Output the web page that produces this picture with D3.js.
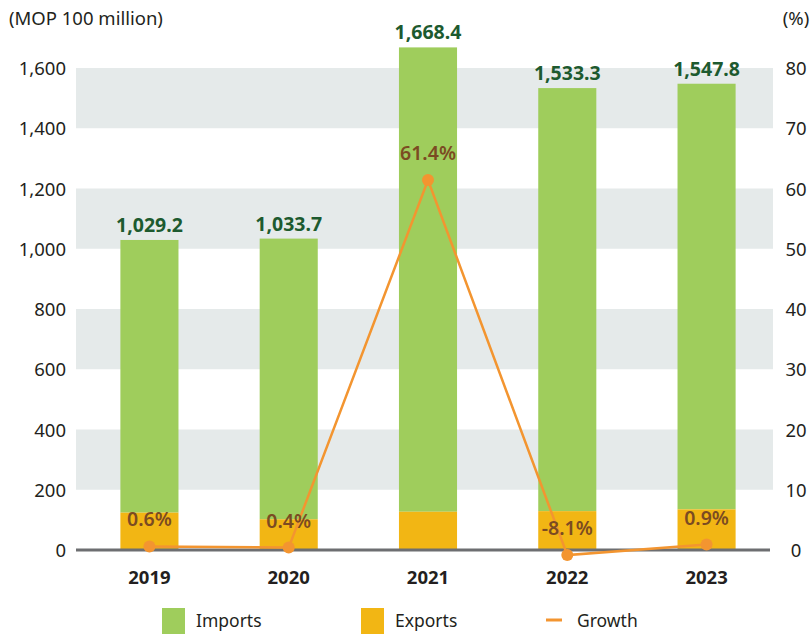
<!DOCTYPE html>
<html>
<head>
<meta charset="utf-8">
<script src="https://cdn.jsdelivr.net/npm/d3@7"></script>
<style>
  body { margin: 0; background: #fff; }
  svg text { font-family: "Noto Sans", "Open Sans", sans-serif; }
</style>
</head>
<body>
<svg id="chart" width="812" height="634"></svg>
<script>
// data
let years = ["2019", "2020", "2021", "2022", "2023"]
let totals = [1029.2, 1033.7, 1668.4, 1533.3, 1547.8]
let exportsVal = [124, 102, 127, 129, 135]
let growth = [0.6, 0.4, 61.4, -8.1, 0.9]
let leftTicks = [0, 200, 400, 600, 800, 1000, 1200, 1400, 1600]
let rightTicks = [0, 10, 20, 30, 40, 50, 60, 70, 80]

let svg = d3.select("#chart")

let x = d3.scaleBand().domain(years).range([80, 776]).paddingInner(0.583).paddingOuter(0.29)
let y = d3.scaleLinear().domain([0, 1600]).range([550, 68])
// right axis; negatives squeezed just under the baseline like the original
let yr = d3.scaleLinear().domain([-12, 0, 80]).range([557.5, 550, 68])

// grey bands
let bands = [[200, 400], [600, 800], [1000, 1200], [1400, 1600]]
svg.append("g").selectAll("rect")
   .data(bands)
   .enter()
   .append("rect")
   .attr("x", 76)
   .attr("width", 697)
   .attr("y", d => y(d[1]))
   .attr("height", d => y(d[0]) - y(d[1]))
   .attr("fill", "#e5eaea")

// left axis
let leftAxis = svg.append("g")
   .attr("transform", "translate(66,0)")
   .call(d3.axisLeft(y).tickValues(leftTicks).tickSize(0).tickPadding(0).tickFormat(d3.format(",")))
leftAxis.select(".domain").remove()
leftAxis.selectAll("text").attr("font-size", 18.5).attr("fill", "#231f20").attr("dy", "0.36em").attr("font-family", null)

// right axis
let rightAxis = svg.append("g")
   .attr("transform", "translate(796,0)")
   .call(d3.axisRight(yr).tickValues(rightTicks).tickSize(0).tickPadding(0))
rightAxis.select(".domain").remove()
rightAxis.selectAll("text").attr("font-size", 18.5).attr("fill", "#231f20").attr("text-anchor", "middle").attr("dy", "0.36em").attr("font-family", null)

svg.append("text").attr("x", 9).attr("y", 25).attr("font-size", 18.5).attr("fill", "#231f20").text("(MOP 100 million)")
svg.append("text").attr("x", 796).attr("y", 25).attr("font-size", 18.5).attr("fill", "#231f20").attr("text-anchor", "middle").text("(%)")

// bars: imports on top of exports
let bars = svg.append("g")
bars.selectAll(".imports")
    .data(years)
    .enter()
    .append("rect")
    .attr("class", "imports")
    .attr("x", d => x(d))
    .attr("width", x.bandwidth())
    .attr("y", (d, i) => y(totals[i]))
    .attr("height", (d, i) => y(exportsVal[i]) - y(totals[i]))
    .attr("fill", "#9fcd5c")

bars.selectAll(".exports")
    .data(years)
    .enter()
    .append("rect")
    .attr("class", "exports")
    .attr("x", d => x(d))
    .attr("width", x.bandwidth())
    .attr("y", (d, i) => y(exportsVal[i]))
    .attr("height", (d, i) => y(0) - y(exportsVal[i]))
    .attr("fill", "#f2b614")

// total labels
svg.append("g").selectAll("text")
   .data(years)
   .enter()
   .append("text")
   .attr("x", d => x(d) + x.bandwidth() / 2)
   .attr("y", (d, i) => y(totals[i]) - 8)
   .attr("text-anchor", "middle")
   .attr("font-size", 19.5)
   .attr("font-weight", "bold")
   .attr("fill", "#1d5a2f")
   .text((d, i) => d3.format(",.1f")(totals[i]))

// baseline
svg.append("line")
   .attr("x1", 76).attr("x2", 770)
   .attr("y1", y(0)).attr("y2", y(0))
   .attr("stroke", "#6d6e71").attr("stroke-width", 3)

// year labels
svg.append("g").selectAll("text")
   .data(years)
   .enter()
   .append("text")
   .attr("x", d => x(d) + x.bandwidth() / 2)
   .attr("y", 584)
   .attr("text-anchor", "middle")
   .attr("font-size", 18.5)
   .attr("font-weight", "bold")
   .attr("fill", "#231f20")
   .text(d => d)

// growth line
let cx = d => x(d) + x.bandwidth() / 2
let line = d3.line().x(d => cx(d)).y((d, i) => yr(growth[i]))
svg.append("path")
   .datum(years)
   .attr("d", line)
   .attr("fill", "none")
   .attr("stroke", "#f39530")
   .attr("stroke-width", 2.5)

svg.append("g").selectAll("circle")
   .data(years)
   .enter()
   .append("circle")
   .attr("cx", cx)
   .attr("cy", (d, i) => yr(growth[i]))
   .attr("r", 6)
   .attr("fill", "#f39530")

svg.append("g").selectAll("text")
   .data(years)
   .enter()
   .append("text")
   .attr("x", cx)
   .attr("y", (d, i) => yr(growth[i]) - 20)
   .attr("text-anchor", "middle")
   .attr("font-size", 19.5)
   .attr("font-weight", 600)
   .attr("fill", "#7b4b22")
   .text((d, i) => growth[i] + "%")

// legend
let legend = svg.append("g")
let items = [
  {name: "Imports", color: "#9fcd5c", x: 162, type: "box"},
  {name: "Exports", color: "#f2b614", x: 361, type: "box"},
  {name: "Growth", color: "#f39530", x: 546, type: "line"}
]
items.forEach(function(item) {

  if (item.type == "box") {
    legend.append("rect").attr("x", item.x).attr("y", 608).attr("width", 23).attr("height", 26).attr("fill", item.color)
    legend.append("text").attr("x", item.x + 34).attr("y", 627).attr("font-size", 17.5).attr("fill", "#231f20").text(item.name)
  } else {
    legend.append("line").attr("x1", item.x).attr("x2", item.x + 16).attr("y1", 620).attr("y2", 620)
          .attr("stroke", item.color).attr("stroke-width", 3)
    legend.append("text").attr("x", item.x + 31).attr("y", 627).attr("font-size", 17.5).attr("fill", "#231f20").text(item.name)
  }

})
</script>
</body>
</html>
